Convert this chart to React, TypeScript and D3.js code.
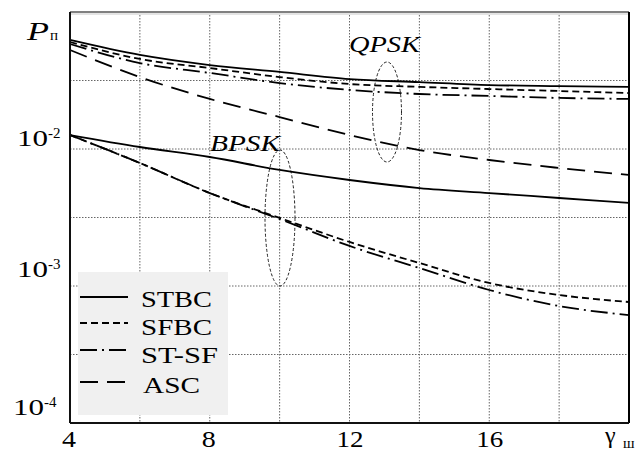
import React from "react";
import * as d3 from "d3";

const gammaValues = [4, 6, 8, 10, 12, 14, 16, 18, 20];
const qpskSTBC = [0.0625, 0.0486, 0.041, 0.0365, 0.0324, 0.0308, 0.0293, 0.0288, 0.0284];
const qpskSFBC = [0.0604, 0.0454, 0.039, 0.0335, 0.0298, 0.0284, 0.0274, 0.0265, 0.0256];
const qpskSTSF = [0.0584, 0.0424, 0.0359, 0.0303, 0.027, 0.0252, 0.0244, 0.0236, 0.0232];
const qpskASC = [0.0528, 0.0335, 0.0232, 0.0171, 0.01265, 0.00983, 0.00831, 0.00727, 0.00646];
const bpskSTBC = [0.01265, 0.01034, 0.00874, 0.00703, 0.00594, 0.00519, 0.00477, 0.00439, 0.00404];
const bpskSFBC = [0.01265, 0.0079, 0.00477, 0.00314, 0.002096, 0.001472, 0.001052, 0.00086, 0.000764];
const bpskSTSF = [0.01265, 0.0079, 0.00477, 0.00308, 0.00196, 0.001353, 0.000935, 0.000714, 0.000614];

const xTickValues = [4, 8, 12, 16];
const xGridValues = [6, 8, 10, 12, 14, 16, 18];
const yGridExponents = [-1.5, -2, -2.5, -3, -3.5];
const yTickExponents = [-2, -3, -4];
const legendNames = ["STBC", "SFBC", "ST-SF", "ASC"];
const dashes: Record<string, string | undefined> = {
  STBC: undefined,
  SFBC: "7,4",
  "ST-SF": "17,5,2,5",
  ASC: "18,9",
};

const L = 70, R = 629, T = 12, B = 423;
const FONT = "'Liberation Serif', 'Times New Roman', serif";

export default function App() {
  const x = d3.scaleLinear().domain([4, 20]).range([L, R]);
  const y = d3.scaleLog().domain([1e-4, 1e-1]).range([B, T]);
  const line = d3
    .line<number>()
    .x((_, i) => x(gammaValues[i]))
    .y((d) => y(d))
    .curve(d3.curveMonotoneX);

  const series: [number[], string][] = [
    [qpskSTBC, "STBC"],
    [qpskSFBC, "SFBC"],
    [qpskSTSF, "ST-SF"],
    [qpskASC, "ASC"],
    [bpskSTBC, "STBC"],
    [bpskSFBC, "SFBC"],
    [bpskSTSF, "ST-SF"],
  ];

  const legendLineY = [297, 323, 350, 382];
  const legendBase = [307, 335, 363, 393];
  const legendWidths = [71, 71, 77, 57];

  return (
    <svg
      width={638}
      height={452}
      style={{ position: "absolute", left: 0, top: 0, background: "#fff" }}
      fontFamily={FONT}
    >
      <rect x={0} y={0} width={638} height={452} fill="#fff" />
      {/* grid */}
      {xGridValues.map((v) => (
        <line key={"gx" + v} x1={x(v)} x2={x(v)} y1={T} y2={B} stroke="#666" strokeWidth={1} strokeDasharray="1.5,1.5" />
      ))}
      {yGridExponents.map((e) => (
        <line key={"gy" + e} x1={L} x2={R} y1={y(Math.pow(10, e))} y2={y(Math.pow(10, e))} stroke="#666" strokeWidth={1} strokeDasharray="1.5,1.5" />
      ))}
      {/* ellipses */}
      <ellipse cx={387} cy={112} rx={14.5} ry={50} fill="none" stroke="#222" strokeWidth={1} strokeDasharray="3,2" />
      <ellipse cx={280} cy={218} rx={15} ry={68} fill="none" stroke="#222" strokeWidth={1} strokeDasharray="3,2" />
      {/* curves */}
      {series.map(([vals, name], i) => (
        <path key={i} d={line(vals) || ""} fill="none" stroke="#000" strokeWidth={1.8} strokeDasharray={dashes[name]} />
      ))}
      {/* frame */}
      <line x1={L} x2={R} y1={T} y2={T} stroke="#808080" strokeWidth={2} />
      <line x1={L} x2={R} y1={T + 2} y2={T + 2} stroke="#e4e4e4" strokeWidth={2} />
      <line x1={L} x2={L} y1={T} y2={B} stroke="#111" strokeWidth={2} />
      <line x1={R} x2={R} y1={T} y2={B} stroke="#000" strokeWidth={2} />
      <line x1={L} x2={R} y1={B} y2={B} stroke="#111" strokeWidth={2} />
      {/* legend */}
      <rect x={78} y={272} width={150} height={143} fill="#f0f0f0" />
      {legendNames.map((n, i) => (
        <g key={n}>
          <line x1={80} x2={128} y1={legendLineY[i]} y2={legendLineY[i]} stroke="#000" strokeWidth={2} strokeDasharray={dashes[n]} />
          <text x={n === "ASC" ? 143 : 141} y={legendBase[i]} fontSize={22.5} textLength={legendWidths[i]} lengthAdjust="spacingAndGlyphs">
            {n}
          </text>
        </g>
      ))}
      {/* annotations */}
      <text x={349} y={52} fontSize={24} fontStyle="italic" textLength={71} lengthAdjust="spacingAndGlyphs">QPSK</text>
      <text x={210} y={151} fontSize={24} fontStyle="italic" textLength={70} lengthAdjust="spacingAndGlyphs">BPSK</text>
      {/* x ticks */}
      {xTickValues.map((v) => (
        <text
          key={"xt" + v}
          x={v < 10 ? x(v) - 8 : x(v) - 13}
          y={447}
          fontSize={24}
          textLength={v < 10 ? 14 : 27}
          lengthAdjust="spacingAndGlyphs"
        >
          {v}
        </text>
      ))}
      <text x={605} y={443} fontSize={24}>γ</text>
      <text x={623} y={448} fontSize={15}>ш</text>
      {/* y ticks */}
      {yTickExponents.map((e, i) => {
        const base = [146, 277, 415][i];
        const x0 = [17, 17, 13][i];
        return (
          <g key={"yt" + e}>
            <text x={x0} y={base} fontSize={24} textLength={31} lengthAdjust="spacingAndGlyphs">10</text>
            <text x={x0 + 31} y={base - 8} fontSize={15}>{String(e)}</text>
          </g>
        );
      })}
      <text x={27} y={40} fontSize={26} fontStyle="italic" textLength={22} lengthAdjust="spacingAndGlyphs">P</text>
      <text x={50} y={40} fontSize={15}>п</text>
    </svg>
  );
}
